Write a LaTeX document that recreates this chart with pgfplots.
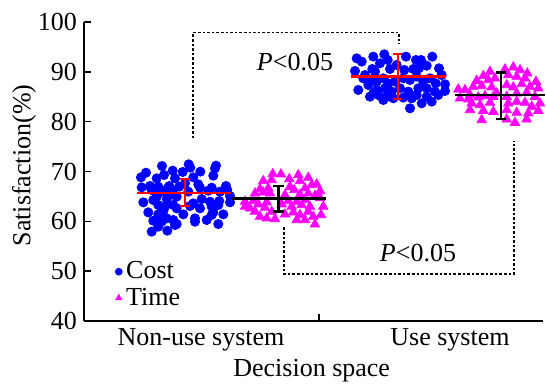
\documentclass[border=0pt]{standalone}
\usepackage{fontspec}
\setmainfont{Liberation Serif}
\usepackage{pgfplots}
\pgfplotsset{compat=1.18}
\definecolor{cblue}{RGB}{0,0,255}
\definecolor{cmag}{RGB}{255,0,255}
\newcommand{\fs}{\fontsize{13}{15}\selectfont}
\begin{document}
\begin{tikzpicture}
\useasboundingbox (-42pt,-32pt) rectangle (231pt,160.5pt);
\begin{axis}[
 scale only axis, width=229.5pt, height=149.5pt,
 xmin=84, xmax=543, ymin=40, ymax=100,
 axis lines*=left,
 axis line style={line width=0.8pt},
 ytick={40,50,...,100},
 xtick={319}, xticklabels={},
 extra x ticks={201,450}, extra x tick labels={Non-use system,Use system},
 extra x tick style={major tick length=0pt},
 tick style={line width=0.8pt, black},
 major tick length=3.5pt,
 tick align=inside,
 /pgf/number format/assume math mode=true,
 ticklabel style={font=\fs},
 ylabel={Satisfaction(\%)}, xlabel={Decision space},
 label style={font=\fs},
 ylabel style={at={(axis description cs:-0.131,0.52)}, anchor=center},
 xlabel style={at={(axis description cs:0.496,-0.167)}, anchor=center},
 clip=false,
 clip marker paths=true,
 unbounded coords=jump,
 legend style={draw=none, fill=none, at={(axis cs:115,52.8)}, anchor=north west,
   font=\fs, inner sep=0pt, row sep=-1pt},
 legend cell align=left,
 legend image code/.code={\draw[#1] plot coordinates {(4pt,0pt)};},
 legend image post style={mark size=1.7pt},
]
% dotted brackets
\addplot[forget plot, line width=0.8pt, dash pattern=on 1.3pt off 1pt] coordinates {(193.3,76.7) (193.3,97.9) (399,97.9) (399,95.6)};
\addplot[forget plot, line width=0.8pt, dash pattern=on 1.3pt off 1pt] coordinates {(284,58.8) (284,49.4) (514,49.4) (514,76.2)};

% Cost (non-use)
\addplot[only marks, mark=*, mark size=2.3pt, color=cblue] table {
x y
188.7 71.44
190.3 70.77
216 71.17
215 70.63
162 71.10
172.7 70.17
182.7 69.90
200.3 69.97
146 69.76
141 68.83
156.7 68.63
164 69.30
175 68.63
193.3 68.83
213.3 69.16
226 67.09
227.3 66.29
211.7 66.75
198.3 67.42
200 66.75
185 67.62
179.3 66.96
169.3 67.09
167.7 66.62
158.3 66.96
150 67.09
141.7 66.82
151.7 66.29
161 65.95
173.3 66.29
188.3 65.95
208.3 66.15
220 65.95
230 65.08
230 63.81
219.3 64.08
218.3 63.28
210 63.95
201.7 64.48
193.3 63.61
190 63.08
176.7 64.95
170 65.28
166.7 64.48
156.7 64.95
153.3 64.28
143.3 63.81
158.3 63.28
165 62.94
173.3 63.28
176.7 62.61
183.3 61.40
200 62.61
211.7 62.94
213.3 61.80
223.3 61.40
218.3 59.46
206.7 60.27
195 60.60
195 59.93
176.7 59.46
173.3 60.27
166.7 60.60
161.7 59.93
158.3 61.40
148.3 61.80
153.3 60.13
151.7 57.93
158.3 58.93
167.3 58.13
175 59.26
163.3 62.07
211.7 61.27
};
\addlegendentry{Cost}
% Time (non-use)
\addplot[only marks, mark=triangle*, mark size=2.7pt, color=cmag] table {
x y
272.7 69.50
281 69.44
298.3 69.30
308.3 68.77
263.3 68.10
271.7 68.30
289.3 68.50
300 68.10
316.7 67.43
260 66.49
268.3 66.63
290 66.96
294.3 66.29
305 66.63
311.7 67.30
320 66.09
263.3 65.82
270 65.62
285 65.29
300 65.42
308.3 65.62
315 65.16
245 63.95
253.3 64.09
258.3 63.42
266.7 63.82
288.3 64.09
296.7 63.95
305 64.29
320 64.75
323.3 62.95
310 62.95
301.7 63.28
291.7 62.95
250 62.61
255 61.95
265 62.75
271.7 61.95
260 60.94
266.7 60.61
285 61.41
293.3 61.81
300 61.28
308.3 61.95
313.3 60.94
321 61.28
305 60.27
296.7 60.27
275 60.47
315 59.40
245 62.95
281.7 63.42
255 65.62
};
\addlegendentry{Time}
% Cost (use)
\addplot[forget plot, only marks, mark=*, mark size=2.3pt, color=cblue] table {
x y
356.7 92.71
361.7 92.05
373.3 93.05
384.3 93.52
387.7 92.38
380 91.71
406 93.05
416 92.38
421 92.38
432.3 93.05
355 90.17
365 89.37
372.3 90.57
375 90.04
390 90.57
404.3 90.37
413.3 90.57
419 90.71
426.7 91.24
439 90.71
441.7 89.37
358.3 86.36
368.3 87.36
371 88.17
376.7 88.03
383.3 88.70
388.3 87.70
403.3 88.70
410 88.37
416.7 89.04
423.3 88.03
430 88.70
435.7 87.70
445 87.50
445 86.16
435 86.03
426.7 86.69
418.3 86.69
408.3 86.03
400 86.69
391.7 86.03
385 86.69
376.7 86.36
370 85.02
378.3 85.36
386.7 85.02
393.3 84.69
403.3 84.82
411.7 84.69
416.7 85.36
426.7 85.02
431.7 84.02
438.3 85.36
410 82.68
421.7 83.68
383.3 84.35
373.3 85.69
363.3 88.70
395 88.03
396.7 91.38
};
% Time (use)
\addplot[forget plot, only marks, mark=triangle*, mark size=2.7pt, color=cmag] table {
x y
490 90.04
505 90.51
513.3 90.91
520 90.37
527.3 89.70
483.3 89.17
476.7 88.23
488.3 88.37
495 88.70
508.3 89.37
516.7 89.04
525 88.70
536 88.03
458.3 86.49
465 86.36
473.3 87.03
481.7 87.16
491.7 86.90
506.7 87.36
513.3 86.90
521.7 87.56
530 87.03
538.3 86.69
460 84.69
468.3 84.49
478.3 84.89
485 85.16
493.3 85.02
506.7 85.02
516.7 85.69
526.7 85.82
535 85.02
471.7 83.68
480 83.35
490 83.82
508.3 83.68
516.7 84.02
525 83.82
531.7 83.02
540 83.68
538.3 82.21
470 82.35
483.3 82.21
493.3 82.01
506.7 82.35
516.7 81.81
528.3 81.68
481.7 80.34
515 79.80
506.7 80.47
526.7 80.47
496.7 85.69
470 85.36
};
% mean lines
\addplot[forget plot, red, line width=1.2pt] coordinates {(136.7,65.7) (231,65.7)};
\addplot[forget plot, black, line width=1.2pt] coordinates {(231.7,64.55) (326,64.55)};
\addplot[forget plot, red, line width=1.2pt] coordinates {(351,89.04) (446,89.04)};
\addplot[forget plot, black, line width=1.2pt] coordinates {(455,85.36) (545,85.36)};
% error bars (vertical bar with caps)
\addplot[forget plot, red, line width=1.2pt] coordinates {(179.7,68.5) (190.3,68.5) (185,nan) (185,68.5) (185,63.1) (185,nan) (179.7,63.1) (190.3,63.1)};
\addplot[forget plot, black, line width=1.2pt] coordinates {(272.8,67.15) (283.8,67.15) (278.3,nan) (278.3,67.15) (278.3,61.95) (278.3,nan) (272.8,61.95) (283.8,61.95)};
\addplot[forget plot, red, line width=1.2pt] coordinates {(393.2,93.58) (402.2,93.58) (397.7,nan) (397.7,93.58) (397.7,84.49) (397.7,nan) (393.2,84.49) (402.2,84.49)};
\addplot[forget plot, black, line width=1.2pt] coordinates {(496,89.84) (506,89.84) (501,nan) (501,89.84) (501,80.54) (501,nan) (496,80.54) (506,80.54)};
% annotations
\node[font=\fs] at (axis cs:295,92.0) {\textit{P}<0.05};
\node[font=\fs] at (axis cs:418,53.7) {\textit{P}<0.05};
\end{axis}
\end{tikzpicture}
\end{document}
